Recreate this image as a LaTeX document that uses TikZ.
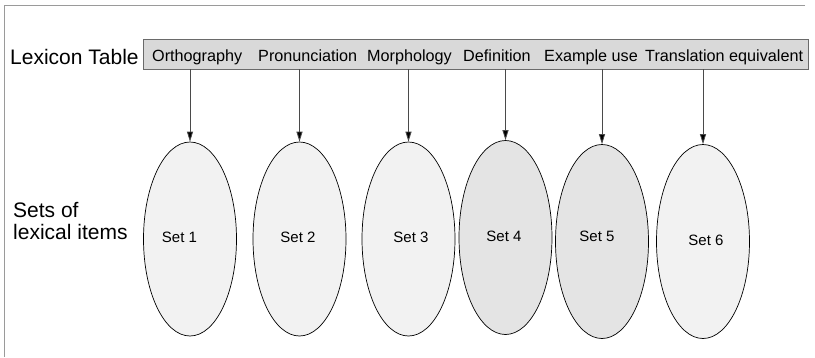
\documentclass[tikz,border=0pt]{standalone}
\usepackage{fontspec}
\setmainfont{Liberation Sans}
\usetikzlibrary{shapes.geometric,arrows.meta}
\definecolor{framegray}{HTML}{9A9A9A}
\definecolor{barfill}{HTML}{D9D9D9}
\definecolor{barline}{HTML}{6A6A6A}
\definecolor{setlight}{HTML}{F2F2F2}
\definecolor{setdark}{HTML}{E4E4E4}
\definecolor{arrline}{HTML}{4A4A4A}
\tikzset{
  bar/.style={draw=barline, fill=barfill, line width=0.8pt, minimum width=665pt, minimum height=30pt, inner sep=0pt},
  head/.style={anchor=base west, inner sep=0pt, font=\fontsize{16.2}{20}\selectfont},
  side/.style={inner sep=0pt, font=\fontsize{21}{23}\selectfont},
  setnode/.style={ellipse, draw=black, line width=0.7pt, minimum width=93pt, minimum height=194pt, inner sep=0pt},
  setlabel/.style={anchor=base, inner sep=0pt, font=\fontsize{15}{18}\selectfont},
  arr/.style={draw=arrline, line width=0.8pt, -{Triangle[length=10pt,width=6pt,fill=black]}},
}
\begin{document}
\begin{tikzpicture}[x=1pt,y=-1pt]
\useasboundingbox (0,0) rectangle (815,357);
% open frame: top and left edges only
\draw[framegray, line width=1.5pt] (805,5.5) -- (4.5,5.5) -- (4.5,357);

% lexicon table bar with its column headings
\node[bar] (tbl) at (475.5,54) {};
\node[side, anchor=base west] (lex) at (10,64) {Lexicon Table};
\node[head] (h1) at (152,61.5) {Orthography};
\node[head] (h2) at (258,61.5) {Pronunciation};
\node[head] (h3) at (367,61.5) {Morphology};
\node[head] (h4) at (463,61.5) {Definition};
\node[head] (h5) at (544,61.5) {Example use};
\node[head] (h6) at (645,61.5) {Translation equivalent};

% side caption for the sets
\node[side, anchor=base west] (sets1) at (13,217) {Sets of};
\node[side, anchor=base west] (sets2) at (13,239) {lexical items};

% the six sets
\node[setnode, fill=setlight] (s1) at (190,239) {};
\node[setnode, fill=setlight] (s2) at (299.5,239) {};
\node[setnode, fill=setlight] (s3) at (408.5,239) {};
\node[setnode, fill=setdark]  (s4) at (505.5,237.5) {};
\node[setnode, fill=setdark]  (s5) at (602,241.5) {};
\node[setnode, fill=setlight] (s6) at (703,241.5) {};

\node[setlabel] (l1) at (179.5,242) {Set 1};
\node[setlabel] (l2) at (298,242) {Set 2};
\node[setlabel] (l3) at (411,242) {Set 3};
\node[setlabel] (l4) at (504,241.5) {Set 4};
\node[setlabel] (l5) at (597,241.5) {Set 5};
\node[setlabel] (l6) at (706,245.5) {Set 6};

% arrows from the table to each set
\foreach \s in {s1,s2,s3,s4,s5,s6}
  \draw[arr] (\s.north |- tbl.south) -- (\s.north);
\end{tikzpicture}
\end{document}
